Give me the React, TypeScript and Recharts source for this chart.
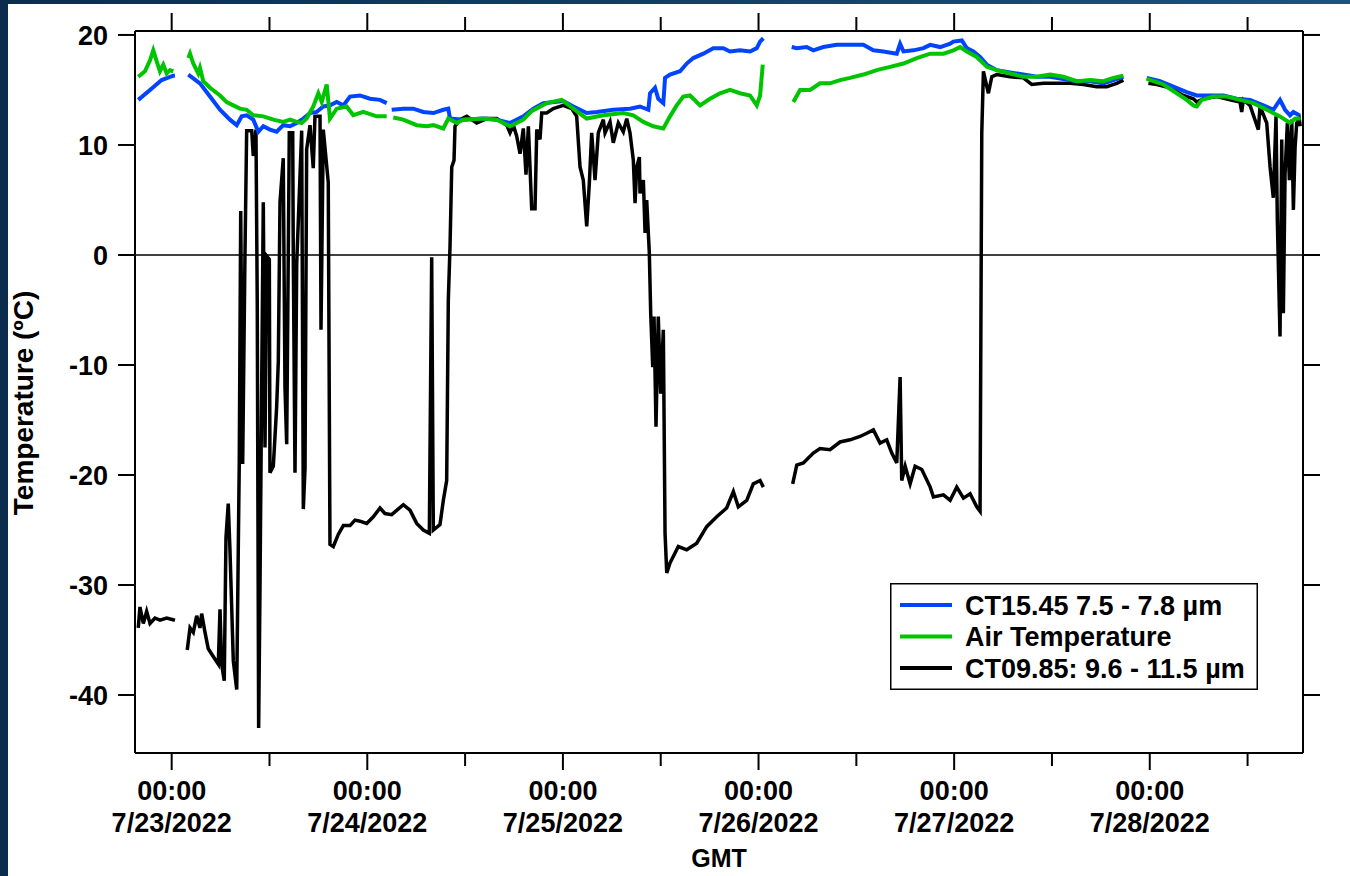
import React from 'react';
import { LineChart, Line, XAxis, YAxis, ReferenceLine, Legend } from 'recharts';

const FONT = '"Liberation Sans", Arial, Helvetica, sans-serif';

// hours since 7/23/2022 00:00 GMT
const hourTicks = [0, 12, 24, 36, 48, 60, 72, 84, 96, 108, 120, 132];
const dayLabels = ['7/23/2022', '7/24/2022', '7/25/2022', '7/26/2022', '7/27/2022', '7/28/2022'];
const tempTicks = [-40, -30, -20, -10, 0, 10, 20];

const seriesNames = ['CT15.45 7.5 - 7.8 µm', 'Air Temperature', 'CT09.85: 9.6 - 11.5 µm'];
const seriesColors = ['#0044ff', '#00c400', '#000000'];

// [hour, °C]; null = no data
const ct15Readings: [number, number | null][] = [
  [-4.1, 14.1], [-2.66, 15.0], [-1.23, 15.9], [0.2, 16.3], [0.4, 16.3], [1.2, null],
  [2.04, 16.4], [3.47, 15.6], [4.7, 14.4], [5.93, 13.2], [7.15, 12.3], [7.98, 11.8], [8.59, 12.6], [9.2, 12.7],
  [10.01, 12.3], [10.63, 11.2], [11.24, 11.7], [12.06, 11.4], [12.88, 11.2], [13.69, 11.8], [14.52, 11.7],
  [15.34, 12.0], [16.15, 12.4], [16.97, 12.9], [17.79, 13.0], [18.6, 13.5], [19.42, 13.6], [20.25, 13.9],
  [21.06, 13.6], [21.88, 14.4], [23.1, 14.5], [24.33, 14.2], [25.56, 14.1], [26.38, 13.8], [26.7, null],
  [26.99, 13.2], [28.42, 13.3], [29.64, 13.3], [30.87, 13.0], [32.1, 12.9], [33.33, 13.2], [33.94, 13.3],
  [34.15, 12.4], [35.78, 12.3], [38.23, 12.4], [39.88, 12.3], [41.51, 12.0], [43.14, 12.6], [44.37, 13.3],
  [45.6, 13.8], [48.05, 14.0], [49.28, 13.5], [50.92, 12.9], [52.15, 13.0], [54.18, 13.2], [56.23, 13.3],
  [57.46, 13.5], [58.48, 13.2], [58.69, 14.7], [59.3, 15.2], [59.7, 14.2], [60.32, 13.8], [60.53, 16.1],
  [61.14, 16.4], [62.37, 16.7], [63.19, 17.4], [64.0, 17.9], [65.23, 18.3], [66.45, 18.8], [67.68, 18.8],
  [68.5, 18.5], [69.73, 18.6], [70.96, 18.5], [71.78, 18.8], [72.19, 19.4], [72.59, 19.7], [74.3, null],
  [76.07, 18.9], [76.69, 18.8], [77.91, 18.9], [78.72, 18.6], [79.95, 18.9], [81.6, 19.1], [83.23, 19.1],
  [84.86, 19.1], [86.09, 18.6], [87.32, 18.5], [88.96, 18.3], [89.37, 19.2], [89.78, 18.5], [91.0, 18.6],
  [92.24, 18.8], [93.06, 19.1], [94.28, 18.9], [95.51, 19.2], [95.91, 19.4], [96.94, 19.5], [97.55, 18.8],
  [98.36, 18.5], [99.18, 18.0], [100.01, 17.3], [101.23, 16.8], [102.86, 16.6], [104.49, 16.4], [106.14, 16.2],
  [107.77, 16.2], [109.4, 16.0], [111.05, 15.8], [112.68, 15.8], [114.31, 15.6], [115.54, 15.9], [116.76, 16.2],
  [118.2, null],
  [119.63, 16.1], [121.26, 15.8], [122.89, 15.3], [124.53, 14.8], [125.77, 14.5], [127.4, 14.5], [129.03, 14.5],
  [130.66, 14.2], [132.3, 14.1], [133.94, 13.6], [135.16, 13.2], [135.98, 14.1], [136.6, 13.2], [137.21, 12.7],
  [137.62, 13.0], [138.34, 12.7],
];

const airReadings: [number, number | null][] = [
  [-4.1, 16.2], [-3.28, 16.7], [-2.66, 17.7], [-2.26, 18.6], [-1.84, 17.6], [-1.44, 16.7], [-1.03, 17.3],
  [-0.61, 16.5], [-0.21, 16.8], [0.2, 16.7], [1.2, null],
  [2.04, 17.9], [2.25, 18.3], [2.65, 17.4], [3.26, 16.5], [3.47, 17.0], [3.88, 15.8], [4.7, 15.2], [5.93, 14.5],
  [6.75, 13.9], [7.56, 13.6], [8.38, 13.3], [9.2, 13.2], [10.01, 12.7], [11.24, 12.6], [12.47, 12.3],
  [13.69, 12.1], [14.52, 12.3], [15.34, 12.1], [15.95, 12.0], [16.56, 12.4], [17.37, 13.5], [17.99, 14.7],
  [18.41, 13.9], [19.02, 15.5], [19.42, 12.4], [20.25, 13.3], [21.47, 13.5], [22.28, 12.7], [23.51, 13.0],
  [25.15, 12.6], [26.38, 12.6], [26.7, null],
  [27.19, 12.5], [28.42, 12.3], [30.06, 11.8], [31.29, 11.7], [32.1, 11.8], [33.33, 11.5], [33.94, 12.4],
  [34.97, 12.0], [35.78, 12.3], [38.23, 12.4], [39.88, 12.3], [41.51, 11.7], [43.14, 12.3], [44.2, 13.1],
  [46.01, 13.8], [47.85, 14.1], [49.28, 13.3], [50.92, 12.4], [52.96, 12.7], [55.41, 12.9], [56.64, 12.7],
  [57.87, 12.1], [59.09, 11.7], [60.32, 11.5], [61.14, 12.6], [61.96, 13.6], [62.77, 14.4], [63.6, 14.5],
  [64.82, 13.6], [66.05, 14.2], [67.27, 14.7], [68.5, 15.0], [69.73, 14.7], [70.96, 14.5], [71.78, 13.6],
  [72.19, 14.5], [72.52, 17.3], [74.3, null],
  [76.27, 13.9], [77.09, 15.0], [78.32, 15.0], [79.54, 15.6], [80.77, 15.6], [82.0, 15.9], [83.23, 16.1],
  [84.86, 16.4], [86.5, 16.8], [88.14, 17.1], [89.78, 17.4], [91.42, 17.9], [93.06, 18.3], [94.69, 18.3],
  [95.91, 18.6], [96.73, 18.9], [97.55, 18.5], [98.77, 18.0], [100.01, 17.1], [101.23, 16.8], [102.86, 16.5],
  [104.49, 16.2], [106.14, 16.2], [107.77, 16.4], [109.4, 16.2], [111.05, 15.8], [112.68, 15.9], [114.31, 15.8],
  [115.54, 16.1], [116.76, 16.3], [118.2, null],
  [119.63, 16.0], [121.67, 15.5], [123.31, 14.7], [124.53, 14.1], [125.35, 13.6], [125.77, 13.5], [126.38, 14.1],
  [127.8, 14.4], [129.44, 14.4], [131.07, 14.1], [132.71, 13.8], [134.35, 13.2], [135.98, 12.6], [137.21, 12.0],
  [137.83, 12.4], [138.53, 12.4],
];

const ct09Readings: [number, number | null][] = [
  [-4.1, -33.9], [-3.89, -32.0], [-3.48, -33.5], [-3.07, -32.4], [-2.66, -33.5], [-2.05, -33.0], [-1.44, -33.2],
  [-0.61, -33.0], [0.4, -33.2], [1.2, null],
  [1.91, -35.9], [2.25, -33.9], [2.65, -34.3], [3.07, -32.8], [3.47, -33.9], [3.68, -32.6], [4.09, -34.3],
  [4.49, -35.8], [5.1, -36.5], [5.72, -37.2], [5.93, -32.2], [6.13, -37.2], [6.45, -38.7], [6.66, -25.7],
  [6.94, -22.6], [7.15, -26.8], [7.56, -36.9], [7.98, -39.5], [8.17, -26.8], [8.29, -19.0], [8.47, 4.0],
  [8.71, -19.0], [8.99, -0.1], [9.2, 11.3], [9.82, 11.3], [10.01, 9.0], [10.34, 11.4], [10.5, -4.5],
  [10.67, -43.0], [10.83, -30.6], [11.04, -12.0], [11.24, 4.8], [11.45, -17.5], [11.66, -0.1], [11.98, -0.4],
  [12.06, -19.8], [12.47, -19.2], [12.88, -13.8], [13.08, -9.7], [13.29, 4.8], [13.69, 8.8], [13.9, -12.0],
  [14.11, -17.2], [14.43, 11.1], [14.85, 11.1], [14.92, -0.1], [15.13, -19.8], [15.34, -0.8], [15.95, 11.3],
  [16.15, -23.1], [16.36, -19.4], [16.56, 9.6], [16.97, 11.8], [17.37, 7.9], [17.58, 12.6], [18.2, 12.6],
  [18.32, -6.8], [18.6, 11.4], [19.21, 6.6], [19.42, -26.3], [19.83, -26.5], [20.44, -25.4], [21.06, -24.6],
  [21.88, -24.6], [22.49, -24.1], [23.1, -24.2], [23.93, -24.4], [24.74, -23.8], [25.56, -23.0], [26.17, -23.5],
  [26.99, -23.6], [28.42, -22.7], [29.24, -23.2], [30.06, -24.4], [30.87, -25.0], [31.61, -25.3], [31.9, -0.2],
  [32.1, -25.0], [32.92, -24.5], [33.33, -22.3], [33.74, -20.5], [33.94, -4.1], [34.15, 0.8], [34.36, 8.0],
  [34.64, 8.6], [34.76, 11.7], [35.37, 12.3], [36.2, 12.6], [37.42, 12.0], [38.65, 12.4], [39.88, 12.4],
  [41.1, 11.8], [41.51, 11.1], [41.92, 11.8], [42.33, 10.8], [42.74, 9.2], [43.14, 11.5], [43.47, 7.3],
  [43.76, 11.7], [44.17, 4.2], [44.58, 4.2], [44.79, 11.4], [45.19, 10.5], [45.4, 12.9], [46.01, 12.9],
  [46.82, 13.3], [48.05, 13.6], [49.08, 13.3], [49.69, 12.6], [50.1, 8.0], [50.5, 6.8], [50.92, 2.6],
  [51.24, 6.5], [51.53, 11.1], [51.94, 6.8], [52.34, 11.1], [52.96, 12.3], [53.17, 11.1], [53.78, 12.1],
  [54.18, 10.2], [54.8, 12.0], [55.41, 11.2], [55.83, 12.4], [56.23, 11.1], [56.64, 8.6], [56.85, 4.7],
  [57.06, 8.0], [57.38, 8.9], [57.46, 5.6], [57.87, 6.8], [58.08, 2.0], [58.28, 5.0], [58.6, 0.2],
  [58.77, -5.3], [59.02, -10.2], [59.18, -5.6], [59.42, -15.6], [59.7, -5.6], [60.0, -12.6], [60.32, -6.8],
  [60.53, -25.3], [60.74, -28.9], [61.14, -28.0], [62.16, -26.5], [63.19, -26.8], [64.42, -26.2],
  [65.64, -24.7], [66.87, -23.8], [68.09, -23.0], [68.91, -21.5], [69.52, -22.9], [70.55, -22.3],
  [71.36, -20.8], [72.19, -20.5], [72.59, -21.1], [74.3, null],
  [76.19, -20.8], [76.69, -19.1], [77.5, -18.9], [78.72, -18.0], [79.54, -17.6], [80.77, -17.7], [82.0, -17.0],
  [83.23, -16.8], [84.45, -16.5], [85.28, -16.2], [86.09, -15.9], [86.91, -17.1], [87.73, -16.8], [88.35, -18.0],
  [88.96, -18.9], [89.37, -11.1], [89.57, -20.5], [89.99, -19.2], [90.6, -20.8], [91.21, -19.2], [92.03, -19.5],
  [93.06, -21.1], [93.46, -22.0], [94.69, -21.8], [95.51, -22.3], [96.32, -21.1], [97.14, -22.1], [97.96, -21.7],
  [98.77, -22.9], [99.18, -23.3], [99.39, 11.1], [99.59, 16.7], [100.2, 14.7], [100.62, 16.2], [101.23, 16.4],
  [102.86, 16.2], [104.49, 16.1], [105.52, 15.5], [106.95, 15.6], [108.59, 15.6], [110.22, 15.6], [111.86, 15.5],
  [113.5, 15.3], [114.72, 15.3], [115.95, 15.6], [116.76, 15.9], [118.2, null],
  [119.83, 15.6], [120.86, 15.5], [122.48, 15.2], [124.12, 14.5], [125.35, 14.2], [125.77, 13.9], [126.57, 14.2],
  [128.22, 14.4], [129.85, 14.1], [131.07, 13.9], [131.28, 13.0], [131.48, 14.1], [132.3, 13.6], [133.32, 11.4],
  [133.53, 13.5], [134.35, 12.0], [134.76, 8.0], [135.16, 5.2], [135.49, 12.6], [135.65, 3.2], [135.98, -7.4],
  [136.19, 10.5], [136.39, -5.3], [136.6, 7.4], [136.88, 12.0], [137.13, 6.8], [137.42, 12.3], [137.62, 4.1],
  [137.83, 9.8], [138.03, 12.0], [138.34, 12.4], [138.46, 11.7],
];

const toRows = (r: [number, number | null][]) => r.map(([t, v]) => ({ t, v }));

const txt = { fontFamily: FONT, fontWeight: 700, fontSize: 27, fill: '#000' };

const BottomTick = ({ x, y, payload }: any) => {
  const major = payload.value % 24 === 0;
  return (
    <g>
      <line x1={x} x2={x} y1={y} y2={y + (major ? 17 : 13)} stroke="#000" strokeWidth={2} />
      {major && (
        <text textAnchor="middle" {...txt}>
          <tspan x={x} y={y + 47}>00:00</tspan>
          <tspan x={x} y={y + 79}>{dayLabels[payload.value / 24]}</tspan>
        </text>
      )}
    </g>
  );
};

const TopTick = ({ x, y, payload }: any) => {
  const major = payload.value % 24 === 0;
  return <line x1={x} x2={x} y1={y} y2={y - (major ? 18 : 14)} stroke="#000" strokeWidth={2} />;
};

const LeftTick = ({ x, y, payload }: any) => (
  <g>
    <line x1={x - 17} x2={x} y1={y} y2={y} stroke="#000" strokeWidth={2} />
    <text x={x - 27} y={y} dy="0.36em" textAnchor="end" {...txt}>{payload.value}</text>
  </g>
);

const RightTick = ({ x, y }: any) => (
  <line x1={x} x2={x + 17} y1={y} y2={y} stroke="#000" strokeWidth={2} />
);

const LegendBox = ({ payload }: any) => {
  const items = seriesNames.map((n) => (payload || []).find((p: any) => p.value === n)).filter(Boolean);
  return (
    <svg width={368} height={107} style={{ display: 'block' }}>
      <rect x={0.75} y={0.75} width={366.5} height={105.5} fill="#fff" stroke="#000" strokeWidth={1.5} />
      {items.map((p: any, i: number) => {
        const cy = 22 + i * 31.5;
        return (
          <g key={p.value}>
            <line x1={10} x2={62} y1={cy} y2={cy} stroke={p.color} strokeWidth={4} />
            <text x={75} y={cy} dy="0.36em" {...txt}>{p.value}</text>
          </g>
        );
      })}
    </svg>
  );
};

export default function App() {
  return (
    <div
      style={{
        position: 'absolute', left: 0, top: 0, width: 1350, height: 876,
        background: 'linear-gradient(90deg, #0b2d4d 0%, #123f66 50%, #1a5480 100%)',
      }}
    >
      <div style={{ position: 'absolute', left: 8, top: 4, width: 1342, height: 872, background: '#fff' }}>
        <LineChart width={1342} height={872} margin={{ top: 0, right: 0, bottom: 0, left: 0 }}>
          <XAxis
            xAxisId="b" dataKey="t" type="number" domain={[-4.5, 138.8]} allowDataOverflow
            ticks={hourTicks} interval={0} height={123} tickSize={0} tickMargin={0} tickLine={false}
            axisLine={{ stroke: '#000', strokeWidth: 2 }} tick={BottomTick}
            label={{
              content: ({ viewBox }: any) => (
                <text x={viewBox.x + viewBox.width / 2} y={viewBox.y + viewBox.height - 9}
                  textAnchor="middle" {...txt} fontSize={25}>GMT</text>
              ),
            }}
          />
          <XAxis
            xAxisId="t" orientation="top" dataKey="t" type="number" domain={[-4.5, 138.8]} allowDataOverflow
            ticks={hourTicks} interval={0} height={27} tickSize={0} tickMargin={0} tickLine={false}
            axisLine={{ stroke: '#000', strokeWidth: 2 }} tick={TopTick}
          />
          <YAxis
            yAxisId="l" type="number" domain={[-45.27, 20.36]} allowDataOverflow ticks={tempTicks} interval={0}
            width={127} tickSize={0} tickMargin={0} tickLine={false}
            axisLine={{ stroke: '#000', strokeWidth: 2 }} tick={LeftTick}
            label={{
              content: ({ viewBox }: any) => {
                const cx = 15;
                const cy = viewBox.y + viewBox.height / 2 + 11;
                return (
                  <text x={cx} y={cy} dy="0.36em" textAnchor="middle" transform={`rotate(-90, ${cx}, ${cy})`}
                    {...txt} fontSize={28}>Temperature (ºC)</text>
                );
              },
            }}
          />
          <YAxis
            yAxisId="r" orientation="right" type="number" domain={[-45.27, 20.36]} allowDataOverflow
            ticks={tempTicks} interval={0} width={47} tickSize={0} tickMargin={0} tickLine={false}
            axisLine={{ stroke: '#000', strokeWidth: 2 }} tick={RightTick}
          />
          <ReferenceLine xAxisId="b" yAxisId="l" y={0} stroke="#000" strokeWidth={1.5} />
          <Line
            xAxisId="b" yAxisId="l" data={toRows(ct09Readings)} dataKey="v" name={seriesNames[2]}
            stroke={seriesColors[2]} strokeWidth={3.5} dot={false} connectNulls={false} isAnimationActive={false}
          />
          <Line
            xAxisId="b" yAxisId="l" data={toRows(ct15Readings)} dataKey="v" name={seriesNames[0]}
            stroke={seriesColors[0]} strokeWidth={4} dot={false} connectNulls={false} isAnimationActive={false}
          />
          <Line
            xAxisId="b" yAxisId="l" data={toRows(airReadings)} dataKey="v" name={seriesNames[1]}
            stroke={seriesColors[1]} strokeWidth={4} dot={false} connectNulls={false} isAnimationActive={false}
          />
          <Legend
            layout="horizontal" verticalAlign="middle" align="center" content={LegendBox}
            wrapperStyle={{ position: 'absolute', left: 882, top: 579, width: 368, height: 107 }}
          />
        </LineChart>
      </div>
    </div>
  );
}
